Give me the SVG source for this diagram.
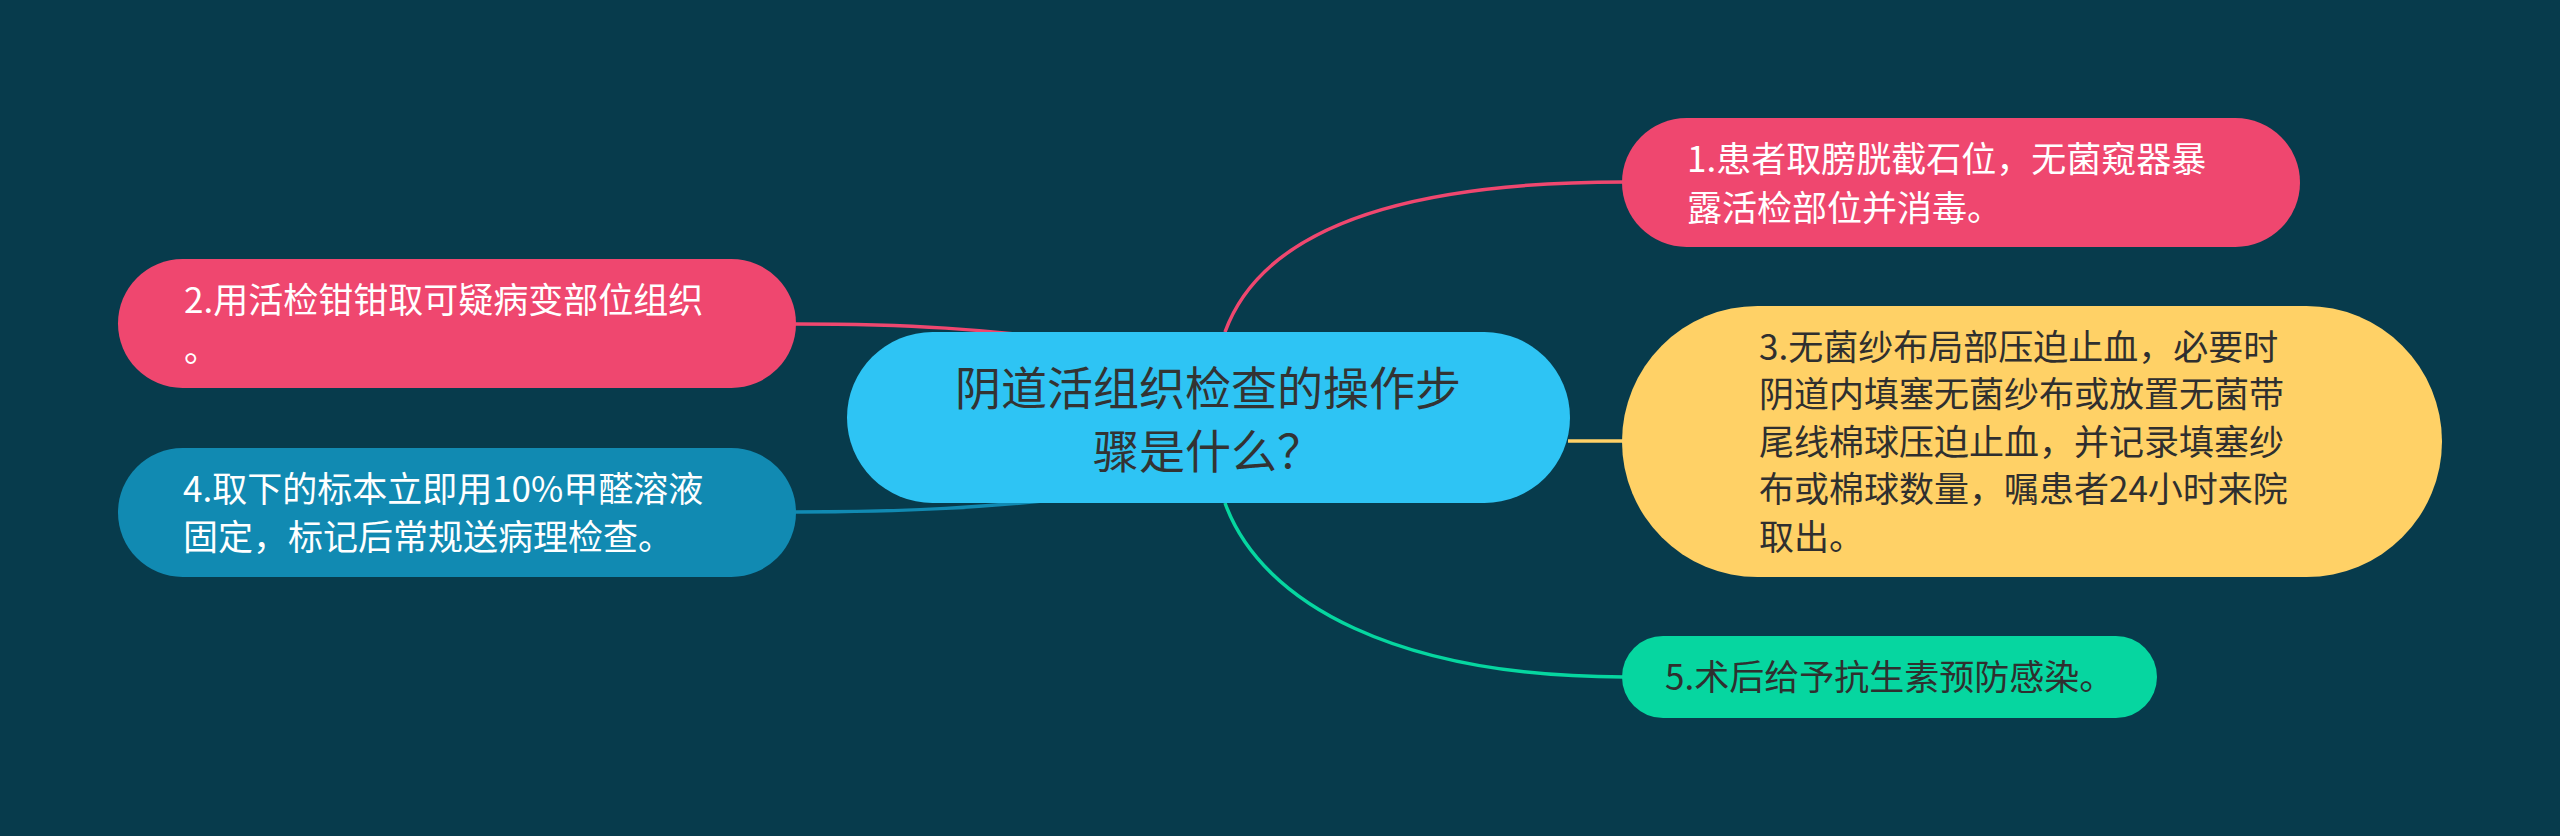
<svg xmlns="http://www.w3.org/2000/svg" width="2560" height="836" viewBox="0 0 2560 836">
<style>
text{font-family:"Noto Sans CJK SC","Noto Sans",sans-serif;}
.c{fill:none;stroke-width:3.5;}
.t{font-size:35px;}
.w{fill:#ffffff;}
.d{fill:#2f2f2f;}
</style>
<rect x="0" y="0" width="2560" height="836" fill="#073b4c"/>
<g id="connectors">
<path class="c" stroke="#ef476f" d="M1225 332 C1262 230 1400 182 1624 182"/>
<path class="c" stroke="#06d6a0" d="M1225 503 C1262 605 1400 677 1624 677"/>
<path class="c" stroke="#ffd166" d="M1568 441 L1624 441"/>
<path class="c" stroke="#ef476f" d="M795 324 C900 324 990 328 1100 345"/>
<path class="c" stroke="#118ab2" d="M795 512 C900 512 990 508 1100 495"/>
</g>
<g id="center">
<rect x="847" y="332" width="723" height="171" rx="85.5" fill="#2ec4f4"/>
<text x="1208" y="405" font-size="46" text-anchor="middle" fill="#333333">阴道活组织检查的操作步</text>
<text x="1208" y="468" font-size="46" text-anchor="middle" fill="#333333">骤是什么？</text>
</g>
<g id="node1">
<rect x="1622" y="118" width="678" height="129" rx="64.5" fill="#ef476f"/>
<text class="t w" x="1687" y="172">1.患者取膀胱截石位，无菌窥器暴</text>
<text class="t w" x="1687" y="221">露活检部位并消毒。</text>
</g>
<g id="node2">
<rect x="118" y="259" width="678" height="129" rx="64.5" fill="#ef476f"/>
<text class="t w" x="184" y="313">2.用活检钳钳取可疑病变部位组织</text>
<text class="t w" x="184" y="362">。</text>
</g>
<g id="node3">
<rect x="1622" y="306" width="820" height="271" rx="135.5" fill="#ffd166"/>
<text class="t d" x="1759" y="360">3.无菌纱布局部压迫止血，必要时</text>
<text class="t d" x="1759" y="407">阴道内填塞无菌纱布或放置无菌带</text>
<text class="t d" x="1759" y="455">尾线棉球压迫止血，并记录填塞纱</text>
<text class="t d" x="1759" y="502">布或棉球数量，嘱患者24小时来院</text>
<text class="t d" x="1759" y="550">取出。</text>
</g>
<g id="node4">
<rect x="118" y="448" width="678" height="129" rx="64.5" fill="#118ab2"/>
<text class="t w" x="183" y="502">4.取下的标本立即用10%甲醛溶液</text>
<text class="t w" x="183" y="550">固定，标记后常规送病理检查。</text>
</g>
<g id="node5">
<rect x="1622" y="636" width="535" height="82" rx="41" fill="#06d6a0"/>
<text class="t d" x="1665" y="690">5.术后给予抗生素预防感染。</text>
</g>
</svg>
